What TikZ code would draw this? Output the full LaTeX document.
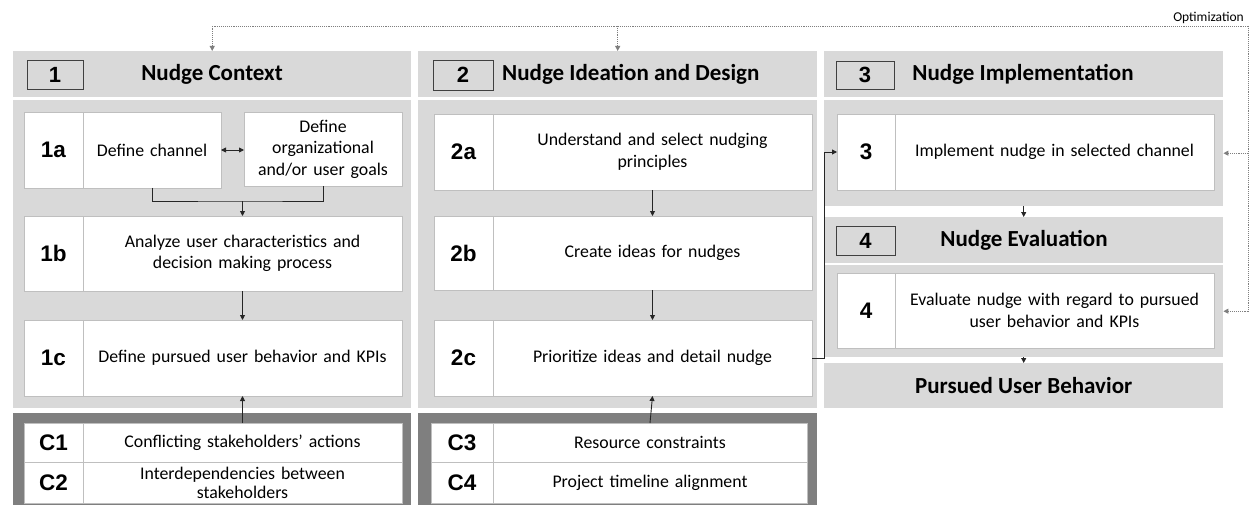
\documentclass[tikz,border=0pt]{standalone}
\usepackage{fontspec}
\setmainfont{Carlito}
\newfontfamily\tagfont{Liberation Sans}
\usetikzlibrary{positioning,arrows.meta}

\definecolor{bandgray}{HTML}{D9D9D9}
\definecolor{framegray}{HTML}{7F7F7F}
\definecolor{boxline}{HTML}{BFBFBF}
\definecolor{numline}{HTML}{404040}
\definecolor{conngray}{HTML}{262626}

\tikzset{
  band/.style={fill=bandgray, anchor=north west, inner sep=0pt},
  cframe/.style={fill=framegray, anchor=north west, inner sep=0pt},
  numbox/.style={draw=numline, line width=0.9pt, fill=bandgray, minimum width=56, minimum height=29,
    inner sep=0pt, font=\tagfont\fontsize{22}{22}\selectfont\bfseries},
  headtext/.style={inner sep=0pt, font=\fontsize{23}{27}\selectfont\bfseries},
  tagbox/.style={draw=boxline, fill=white, line width=0.9pt, anchor=north west, minimum width=59,
    inner sep=0pt, outer sep=0pt, font=\tagfont\fontsize{22.5}{22}\selectfont\bfseries},
  stepbox/.style={draw=boxline, fill=white, line width=0.9pt, inner sep=0pt, outer sep=0pt,
    align=center, font=\fontsize{17.8}{21.5}\selectfont},
  conn/.style={draw=conngray, line width=0.9pt, -{Triangle[length=5pt,width=5pt]}},
  optline/.style={draw=framegray, densely dotted, line width=0.9pt, -{Triangle[length=5pt,width=5pt]}},
}

\begin{document}
\begin{tikzpicture}[x=1pt, y=-1pt]
  \useasboundingbox (0,0) rectangle (1249,505);

  % column 1
  \node[band, minimum width=398, minimum height=46] (hd1) at (13,51) {};
  \node[band, minimum width=398, minimum height=308] (bd1) at (13,100) {};
  \node[cframe, minimum width=398, minimum height=92] (cf1) at (13,413) {};
  \node[numbox] (n1) at (55,74.5) {1};
  \node[headtext] (h1) at (212,74) {Nudge Context};

  \node[tagbox, minimum height=76] (t1a) at (24,112) {1a};
  \node[stepbox, right=0pt of t1a, minimum width=138, minimum height=76, text width=130] (s1a) {Define channel};
  \node[stepbox, anchor=north west, minimum width=158, minimum height=74, text width=150] (g1a) at (244,112)
    {Define\\organizational\\and/or user goals};
  \node[tagbox, minimum height=75] (t1b) at (24,216) {1b};
  \node[stepbox, right=0pt of t1b, minimum width=319, minimum height=75, text width=310] (s1b)
    {Analyze user characteristics and\\decision making process};
  \node[tagbox, minimum height=76] (t1c) at (24,320) {1c};
  \node[stepbox, right=0pt of t1c, minimum width=319, minimum height=76, text width=310] (s1c)
    {Define pursued user behavior and KPIs};

  \node[tagbox, minimum height=39] (tc1) at (24,423) {C1};
  \node[stepbox, right=0pt of tc1, minimum width=319, minimum height=39, text width=310] (sc1)
    {Conflicting stakeholders’ actions};
  \node[tagbox, minimum height=41] (tc2) at (24,462) {C2};
  \node[stepbox, right=0pt of tc2, minimum width=319, minimum height=41, text width=310,
    font=\fontsize{17.8}{19}\selectfont] (sc2) {Interdependencies between\\stakeholders};

  % column 2
  \node[band, minimum width=399, minimum height=46] (hd2) at (418,51) {};
  \node[band, minimum width=399, minimum height=308] (bd2) at (418,100) {};
  \node[cframe, minimum width=399, minimum height=92] (cf2) at (418,413) {};
  \node[numbox, minimum width=60, minimum height=30] (n2) at (463,75) {2};
  \node[headtext, anchor=west] (h2) at (502,74) {Nudge Ideation and Design};

  \node[tagbox, minimum height=76] (t2a) at (434,114) {2a};
  \node[stepbox, right=0pt of t2a, minimum width=319, minimum height=76, text width=310] (s2a)
    {Understand and select nudging\\principles};
  \node[tagbox, minimum height=74] (t2b) at (434,216) {2b};
  \node[stepbox, right=0pt of t2b, minimum width=319, minimum height=74, text width=310] (s2b)
    {Create ideas for nudges};
  \node[tagbox, minimum height=76] (t2c) at (434,320) {2c};
  \node[stepbox, right=0pt of t2c, minimum width=319, minimum height=76, text width=310] (s2c)
    {Prioritize ideas and detail nudge};

  \node[tagbox, minimum width=62, minimum height=39] (tc3) at (431,423) {C3};
  \node[stepbox, right=0pt of tc3, minimum width=314, minimum height=39, text width=305] (sc3)
    {Resource constraints};
  \node[tagbox, minimum width=62, minimum height=41] (tc4) at (431,462) {C4};
  \node[stepbox, right=0pt of tc4, minimum width=314, minimum height=41, text width=305] (sc4)
    {Project timeline alignment};

  % column 3
  \node[band, minimum width=399, minimum height=46] (hd3) at (824,51) {};
  \node[band, minimum width=399, minimum height=106] (bd3) at (824,100) {};
  \node[numbox, minimum width=58, minimum height=28] (n3) at (865,75) {3};
  \node[headtext] (h3) at (1023,74) {Nudge Implementation};
  \node[tagbox, minimum width=58, minimum height=76] (t3) at (837,114) {3};
  \node[stepbox, right=0pt of t3, minimum width=319, minimum height=76, text width=310] (s3)
    {Implement nudge in selected channel};

  \node[band, minimum width=399, minimum height=46] (hd4) at (824,217) {};
  \node[band, minimum width=399, minimum height=92] (bd4) at (824,265) {};
  \node[numbox, minimum width=59, minimum height=29] (n4) at (865.5,240.5) {4};
  \node[headtext] (h4) at (1024,240) {Nudge Evaluation};
  \node[tagbox, minimum width=58, minimum height=75] (t4) at (837,273) {4};
  \node[stepbox, right=0pt of t4, minimum width=319, minimum height=75, text width=310] (s4)
    {Evaluate nudge with regard to pursued\\user behavior and KPIs};

  \node[band, minimum width=399, minimum height=45, font=\fontsize{23}{27}\selectfont\bfseries] (pub) at (824,363)
    {Pursued User Behavior};

  % connectors
  \coordinate (j1) at ([yshift=-13pt]s1a.south -| s1b.north);
  \draw[conn, -] (s1a.south) |- (j1) -| (g1a.south);
  \draw[conn] (j1) -- (s1b.north);
  \draw[conn, {Triangle[length=5pt,width=5pt]}-{Triangle[length=5pt,width=5pt]}] (s1a.east) -- (s1a.east -| g1a.west);
  \draw[conn] (s1b.south) -- (s1c.north);
  \draw[conn] (sc1.north) -- (s1c.south);

  \draw[conn] (s2a.south) -- (s2b.north);
  \draw[conn] (s2b.south) -- (s2c.north);
  \draw[conn] (sc3.north) -- (s2c.south);
  \draw[conn] (s2c.east) -- ++(12,0) |- (t3.west);

  \draw[conn] (bd3.south) -- (hd4.north);
  \draw[conn] (bd4.south) -- (pub.north);

  % optimization loop
  \coordinate (opt) at (1248,26);
  \node[anchor=base east, inner sep=0pt, font=\fontsize{13.5}{13.5}\selectfont] (optlbl) at (1244,22) {Optimization};
  \draw[optline] (opt) -- (hd1.north |- opt) -- (hd1.north);
  \draw[optline] (hd2.north |- opt) -- (hd2.north);
  \draw[optline] (opt) |- (bd3.east);
  \draw[optline] (opt) |- (bd4.east);
\end{tikzpicture}
\end{document}
